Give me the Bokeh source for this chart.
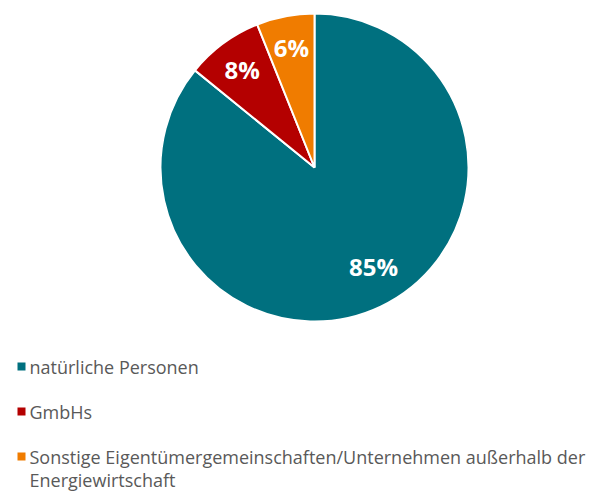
import numpy as np
from bokeh.plotting import figure
from bokeh.models import Range1d, ColumnDataSource
from bokeh.core.properties import value
from bokeh.embed import file_html
from bokeh.resources import INLINE

categories = ["natürliche Personen", "GmbHs",
              "Sonstige Eigentümergemeinschaften/Unternehmen außerhalb der\nEnergiewirtschaft"]
shares = [85, 8, 6]
colors = ["#00707F", "#B40000", "#F07C00"]

W, H = 598, 491
p = figure(width=W, height=H, output_backend="svg", toolbar_location=None,
           x_range=Range1d(0, W), y_range=Range1d(0, H), min_border=0)
p.axis.visible = False
p.grid.visible = False
p.outline_line_color = None

def Y(sy):
    return H - sy

cx, cy, R = 314, Y(167), 154
vals = np.array(shares, dtype=float)
frac = vals / vals.sum()
cum_end = np.cumsum(frac)
cum_start = cum_end - frac
start = np.pi / 2 - cum_start * 2 * np.pi
end = np.pi / 2 - cum_end * 2 * np.pi
src = ColumnDataSource(dict(start=start, end=end, color=colors))
p.wedge(x=cx, y=cy, radius=R, start_angle="start", end_angle="end",
        direction="clock", fill_color="color", line_color="white",
        line_width=2, source=src)

mid = (start + end) / 2
big = frac > 0.5
lr = np.where(big, 115, 122)
la = mid + np.where(big, 0.095, 0.0)
lx = cx + lr * np.cos(la)
ly = cy + lr * np.sin(la)
p.text(x=lx.tolist(), y=ly.tolist(), text=[f"{v:.0f}%" for v in vals],
       text_color="white", text_font=value("Open Sans"), text_font_style="bold",
       text_font_size="24px", text_align="center", text_baseline="middle")

# legend
row_y = [366 + i * 45 for i in range(len(categories))]
p.rect(x=[21] * len(categories), y=[Y(y) for y in row_y], width=8, height=8,
       fill_color=colors, line_color=None)
tx, ty, tt = [], [], []
for y, lab in zip(row_y, categories):
    for j, line in enumerate(lab.split("\n")):
        tx.append(29)
        ty.append(Y(y + j * 23))
        tt.append(line)
p.text(x=tx, y=ty, text=tt,
       text_color="#595959", text_font=value("Open Sans"), text_font_size="18px",
       text_align="left", text_baseline="middle")

open("out.html", "w").write(file_html(p, INLINE))
